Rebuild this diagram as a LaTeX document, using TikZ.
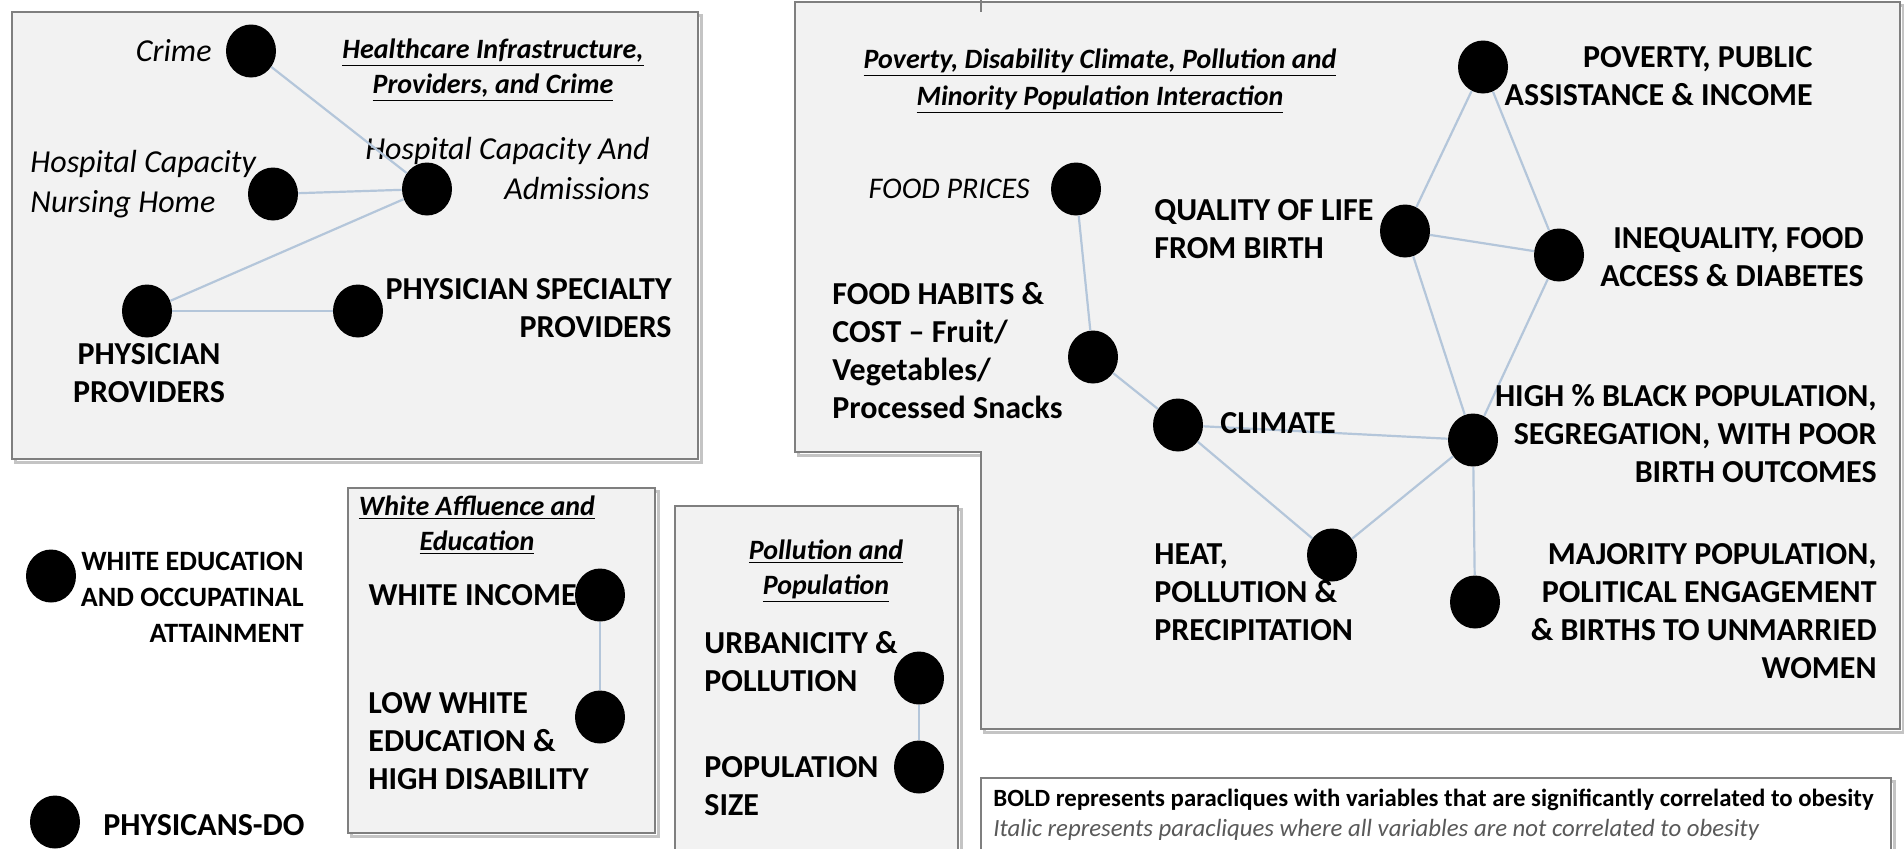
\documentclass[tikz,border=0pt]{standalone}
\usepackage{fontspec}
\setmainfont{Carlito}
\usetikzlibrary{shapes.geometric}
\definecolor{boxfill}{HTML}{F2F2F2}
\definecolor{boxline}{HTML}{7F7F7F}
\definecolor{boxshade}{HTML}{C4C4C4}
\definecolor{linkblue}{HTML}{B4C6DA}
\definecolor{notegray}{HTML}{595959}
\begin{document}
\begin{tikzpicture}[x=0.5pt,y=-0.5pt,
  dot/.style={ellipse,fill=black,minimum width=25pt,minimum height=26.5pt,inner sep=0pt},
  link/.style={draw=linkblue,line width=1.1pt},
  panel/.style={fill=boxfill,draw=boxline,line width=1pt},
  shade/.style={draw=boxshade,line width=1.5pt},
  bl/.style={font=\bfseries\fontsize{16}{19}\selectfont,inner sep=0pt},
  il/.style={font=\itshape\fontsize{16}{20}\selectfont,inner sep=0pt},
  ttl/.style={font=\bfseries\itshape\fontsize{14}{17.5}\selectfont,inner sep=0pt,align=center},
  note/.style={inner sep=0pt,anchor=west},
]
\useasboundingbox (0,0) rectangle (1904,848);
\fill[white] (0,0) rectangle (1904,848);

% ---------- panels ----------
\draw[shade] (15,15) rectangle (701,462);
\draw[panel] (12,12) rectangle (698,459);

\draw[shade] (798,5) -- (1903,5) -- (1903,732) -- (984,732) -- (984,455) -- (798,455) -- cycle;
\draw[panel] (795,2) -- (1900,2) -- (1900,729) -- (981,729) -- (981,452) -- (795,452) -- cycle;
\draw[boxline,line width=1pt] (981,0) -- (981,12);

\draw[shade] (351,491) rectangle (658,836);
\draw[panel] (348,488) rectangle (655,833);

\draw[shade] (678,509) rectangle (961,870);
\draw[panel] (675,506) rectangle (958,867);

\draw[shade] (984,781) rectangle (1894,870);
\draw[fill=white,draw=boxline,line width=1pt] (981,778) rectangle (1891,867);

% ---------- healthcare infrastructure ----------
\node[ttl] (t1) at (493,70) {\underline{Healthcare Infrastructure,}\\\underline{Providers, and Crime}};
\node[dot] (crime) at (251,51) {};
\node[dot] (hnh) at (273,194) {};
\node[dot] (hadm) at (427,189) {};
\node[dot] (pp) at (147,311) {};
\node[dot] (ps) at (358,311) {};
\node[il,anchor=east] (lcrime) at (212,51) {Crime};
\node[il,anchor=west,align=left] (lhnh) at (30,184) {Hospital Capacity\\Nursing Home};
\node[il,anchor=east,align=right] (lhadm) at (650,168) {Hospital Capacity And\\Admissions};
\node[bl,align=center] (lpp) at (149,373) {PHYSICIAN\\PROVIDERS};
\node[bl,anchor=east,align=right] (lps) at (672,308) {PHYSICIAN SPECIALTY\\PROVIDERS};
\draw[link] (crime) -- (hadm);
\draw[link] (hnh) -- (hadm);
\draw[link] (hadm) -- (pp);
\draw[link] (pp) -- (ps);

% ---------- poverty, climate, pollution, minority population ----------
\node[ttl,font=\bfseries\itshape\fontsize{14}{18.5}\selectfont] (t2) at (1100,81) {\underline{Poverty, Disability Climate, Pollution and}\\\underline{Minority Population Interaction}};
\node[dot] (pov) at (1483,67) {};
\node[dot] (fprice) at (1076,189) {};
\node[dot] (qol) at (1405,231) {};
\node[dot] (ineq) at (1559,255) {};
\node[dot] (fhab) at (1093,357) {};
\node[dot] (clim) at (1178,425) {};
\node[dot] (hblack) at (1473,440) {};
\node[dot] (heat) at (1332,555) {};
\node[dot] (major) at (1475,602) {};
\draw[link] (pov) -- (qol);
\draw[link] (pov) -- (ineq);
\draw[link] (qol) -- (ineq);
\draw[link] (qol) -- (hblack);
\draw[link] (ineq) -- (hblack);
\draw[link] (fprice) -- (fhab);
\draw[link] (fhab) -- (clim);
\draw[link] (clim) -- (hblack);
\draw[link] (clim) -- (heat);
\draw[link] (heat) -- (hblack);
\draw[link] (hblack) -- (major);
\node[bl,anchor=east,align=right] (lpov) at (1813,76) {POVERTY, PUBLIC\\ASSISTANCE \& INCOME};
\node[il,anchor=east,font=\itshape\fontsize{15}{20}\selectfont] (lfprice) at (1030,189) {FOOD PRICES};
\node[bl,anchor=west,align=left] (lqol) at (1154,229) {QUALITY OF LIFE\\FROM BIRTH};
\node[bl,anchor=east,align=right] (lineq) at (1864,257) {INEQUALITY, FOOD\\ACCESS \& DIABETES};
\node[bl,anchor=west,align=left] (lfhab) at (832,351) {FOOD HABITS \&\\COST -- Fruit/\\Vegetables/\\Processed Snacks};
\node[bl,anchor=west] (lclim) at (1220,423) {CLIMATE};
\node[bl,anchor=east,align=right] (lhblack) at (1877,434) {HIGH \% BLACK POPULATION,\\SEGREGATION, WITH POOR\\BIRTH OUTCOMES};
\node[bl,anchor=west,align=left] (lheat) at (1154,592) {HEAT,\\POLLUTION \&\\PRECIPITATION};
\node[bl,anchor=east,align=right] (lmajor) at (1877,611) {MAJORITY POPULATION,\\POLITICAL ENGAGEMENT\\\& BIRTHS TO UNMARRIED\\WOMEN};

% ---------- single variables ----------
\node[dot] (wed) at (51,576) {};
\node[bl,anchor=east,align=right,font=\bfseries\fontsize{14}{18}\selectfont] (lwed) at (304,597) {WHITE EDUCATION\\AND OCCUPATINAL\\ATTAINMENT};
\node[dot] (pdo) at (55,822) {};
\node[bl,anchor=west] (lpdo) at (103,825) {PHYSICANS-DO};

% ---------- white affluence and education ----------
\node[ttl] (t3) at (477,525) {\underline{White Affluence and}\\\underline{Education}};
\node[dot] (winc) at (600,595) {};
\node[dot] (loww) at (600,717) {};
\draw[link] (winc) -- (loww);
\node[bl,anchor=east] (lwinc) at (577,595) {WHITE INCOME};
\node[bl,anchor=west,align=left] (lloww) at (368,741) {LOW WHITE\\EDUCATION \&\\HIGH DISABILITY};

% ---------- pollution and population ----------
\node[ttl] (t4) at (826,571) {\underline{Pollution and}\\\underline{Population}};
\node[dot] (urb) at (919,678) {};
\node[dot] (psize) at (919,767) {};
\draw[link] (urb) -- (psize);
\node[bl,anchor=west,align=left] (lurb) at (704,662) {URBANICITY \&\\POLLUTION};
\node[bl,anchor=west,align=left] (lpsize) at (704,786) {POPULATION\\SIZE};

% ---------- key ----------
\node[note,font=\bfseries\fontsize{12.4}{15}\selectfont] (k1) at (993,800) {BOLD represents paracliques with variables that are significantly correlated to obesity};
\node[note,font=\itshape\fontsize{12.4}{15}\selectfont,text=notegray] (k2) at (993,830) {Italic represents paracliques where all variables are not correlated to obesity};
\end{tikzpicture}
\end{document}
